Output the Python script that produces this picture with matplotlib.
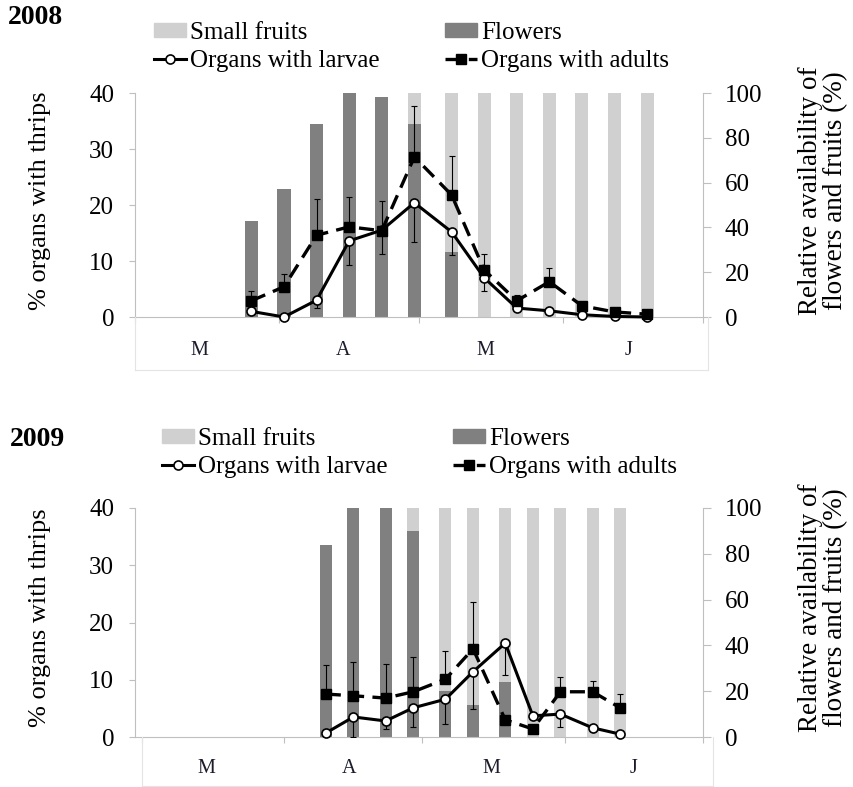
"""Thrips on flowers and small fruits, 2008 and 2009."""
import numpy as np
import pandas as pd
import matplotlib
matplotlib.use('Agg')
import matplotlib.pyplot as plt
from matplotlib.patches import Patch
from matplotlib.lines import Line2D

# sampling dates and values
dates_2008 = ['2008-03-26', '2008-04-02', '2008-04-09', '2008-04-16', '2008-04-23',
              '2008-04-30', '2008-05-08', '2008-05-15', '2008-05-22', '2008-05-29',
              '2008-06-05', '2008-06-12', '2008-06-19']
flowers_2008 = [43, 57, 86, 100, 98, 86, 29, 0, 0, 0, 0, 0, 0]
fruits_2008 = [0, 0, 0, 0, 0, 14, 71, 100, 100, 100, 100, 100, 100]
larvae_2008 = [1.0, 0.0, 3.0, 13.6, 15.5, 20.4, 15.2, 7.0, 1.6, 1.1, 0.4, 0.1, 0.0]
larvae_err_2008 = [0.5, 0.0, 1.4, 4.3, 4.2, 7.0, 4.1, 2.4, 0.6, 0.5, 0.2, 0.0, 0.0]
adults_2008 = [2.9, 5.4, 14.6, 16.1, 15.4, 28.6, 21.8, 8.4, 2.9, 6.3, 2.0, 0.9, 0.5]
adults_err_2008 = [1.7, 2.3, 6.4, 5.3, 5.3, 9.0, 6.9, 2.9, 1.0, 2.5, 0.5, 0.0, 0.0]

dates_2009 = ['2009-04-10', '2009-04-16', '2009-04-23', '2009-04-29', '2009-05-06',
              '2009-05-12', '2009-05-19', '2009-05-25', '2009-05-31', '2009-06-07',
              '2009-06-13']
flowers_2009 = [84, 100, 100, 90, 20, 14, 24, 0, 0, 0, 0]
fruits_2009 = [0, 0, 0, 10, 80, 86, 76, 100, 100, 100, 100]
larvae_2009 = [0.7, 3.5, 2.8, 5.1, 6.6, 11.4, 16.4, 3.7, 4.0, 1.6, 0.5]
larvae_err_2009 = [0.5, 3.5, 1.4, 3.4, 4.3, 6.5, 5.6, 0.5, 2.3, 0.5, 0.3]
adults_2009 = [7.5, 7.2, 6.8, 7.9, 10.1, 15.4, 3.0, 1.4, 7.9, 7.9, 5.1]
adults_err_2009 = [5.1, 5.9, 6.0, 6.1, 5.0, 8.2, 0.5, 0.3, 2.6, 1.9, 2.4]

month_labels = ['M', 'A', 'M', 'J']

FRUIT_COLOR = '#d0d0d0'
FLOWER_COLOR = '#808080'
SPINE_COLOR = '#bfbfbf'
BOX_COLOR = '#e4e4e4'
W, H = 854, 787


def rect(left, top, right, bottom):
    """Pixel box -> figure fraction [l, b, w, h]."""
    return [left / W, 1 - bottom / H, (right - left) / W, (bottom - top) / H]


def days_since_march(dates, year):
    d = pd.to_datetime(dates)
    return np.array((d - pd.Timestamp(year=year, month=3, day=1)).days, dtype=float)


def draw_year(fig, year, dates, flowers, fruits, larvae, larvae_err, adults, adults_err,
              ax_px, xlim, box_px, box_xlim, bar_width, legend_px, title_px, label_y):
    x = days_since_march(dates, year)
    months = pd.date_range('{}-03-01'.format(year), '{}-07-01'.format(year), freq='MS')
    bounds = np.array((months - months[0]).days, dtype=float)

    ax = fig.add_axes(rect(*ax_px))
    ax.bar(x, flowers, width=bar_width, color=FLOWER_COLOR, zorder=1)
    ax.bar(x, fruits, width=bar_width, bottom=flowers, color=FRUIT_COLOR, zorder=1)
    ax.set_xlim(*xlim)
    ax.set_ylim(0, 100)
    ax.set_yticks(range(0, 101, 20))
    ax.set_xticks(bounds)
    ax.set_xticklabels([])
    ax.spines['top'].set_visible(False)
    for s in ('left', 'right', 'bottom'):
        ax.spines[s].set_color(SPINE_COLOR)

    ax2 = ax.twinx()
    # twinx flips the host's ticks to the left; swap them back
    ax.yaxis.tick_right()
    ax2.yaxis.tick_left()
    ax.tick_params(axis='x', length=4, color=SPINE_COLOR)
    ax.tick_params(axis='y', length=5.5, color=SPINE_COLOR, labelsize=18, pad=10)
    ax2.set_ylim(0, 40)
    ax2.set_yticks(range(0, 41, 10))
    ax2.tick_params(axis='y', length=4, color=SPINE_COLOR, labelsize=18, pad=11)
    for s in ax2.spines.values():
        s.set_visible(False)

    ax2.errorbar(x, larvae, yerr=[larvae_err, np.zeros(len(x))], fmt='none',
                 ecolor='black', elinewidth=0.8, capsize=2.5, capthick=0.8)
    ax2.errorbar(x, adults, yerr=[np.zeros(len(x)), adults_err], fmt='none',
                 ecolor='black', elinewidth=0.8, capsize=2.5, capthick=0.8)
    ax2.plot(x, larvae, color='black', lw=2.2, marker='o', ms=6.5, mfc='white',
             mec='black', mew=1.2, clip_on=False, zorder=3)
    ax2.plot(x, adults, color='black', lw=2.4, ls=(0, (4.5, 2.5)), marker='s', ms=7,
             mfc='black', mec='black', clip_on=False, zorder=4)

    # month box under the axis
    mb = fig.add_axes(rect(*box_px))
    mb.set_xlim(*box_xlim)
    mb.set_ylim(0, 1)
    mb.set_xticks([])
    mb.set_yticks([])
    mb.patch.set_alpha(0)
    mb.spines['top'].set_visible(False)
    for s in ('left', 'right', 'bottom'):
        mb.spines[s].set_color(BOX_COLOR)
    for lab, a, b in zip(month_labels, bounds[:-1], bounds[1:]):
        mb.text((a + b) / 2 - 1.7, 0.36, lab, ha='center', va='center',
                fontsize=14.5, color='#1c1c2c')

    fig.text(title_px[0] / W, 1 - title_px[1] / H, str(year), fontsize=20,
             fontweight='bold', va='center', ha='left')
    fig.text(40 / W, 1 - (label_y - 4) / H, '% organs with thrips', rotation=90,
             fontsize=19, ha='center', va='center')
    fig.text(823 / W, 1 - (label_y - 14) / H, 'Relative availability of\nflowers and fruits (%)',
             rotation=90, fontsize=19.5, ha='center', va='center', linespacing=1.0)

    handles = [Patch(color=FRUIT_COLOR),
               Line2D([], [], color='black', lw=2.2, marker='o', ms=6.5, mfc='white', mew=1.2),
               Patch(color=FLOWER_COLOR),
               Line2D([], [], color='black', lw=2.4, ls=(0, (4.5, 2.5)), marker='s', ms=7)]
    labels = ['Small fruits', 'Organs with larvae', 'Flowers', 'Organs with adults']
    fig.legend(handles, labels, ncol=2, loc='upper left',
               bbox_to_anchor=(legend_px[0] / W, 1 - legend_px[1] / H),
               frameon=False, fontsize=18, borderpad=0, borderaxespad=0,
               handlelength=1.3, handleheight=0.5, handletextpad=0.15,
               columnspacing=2.6, labelspacing=0.25, numpoints=1)


def main():
    plt.rcParams['font.family'] = ['Liberation Serif', 'DejaVu Serif']
    fig = plt.figure(figsize=(W / 100, H / 100), dpi=100)

    draw_year(fig, 2008, dates_2008, flowers_2008, fruits_2008, larvae_2008, larvae_err_2008,
              adults_2008, adults_err_2008,
              ax_px=(135, 93, 703, 317), xlim=(0, 121.1),
              box_px=(135, 317, 708, 370), box_xlim=(0, 122.2), bar_width=2.8,
              legend_px=(154, 22), title_px=(8, 18), label_y=205)
    draw_year(fig, 2009, dates_2009, flowers_2009, fruits_2009, larvae_2009, larvae_err_2009,
              adults_2009, adults_err_2009,
              ax_px=(135, 508, 703, 737), xlim=(-1.5, 120.1),
              box_px=(142, 737, 713, 786), box_xlim=(0, 122.3), bar_width=2.6,
              legend_px=(162, 428), title_px=(10, 440), label_y=622)

    fig.savefig('out.png', dpi=100)


if __name__ == '__main__':
    main()
